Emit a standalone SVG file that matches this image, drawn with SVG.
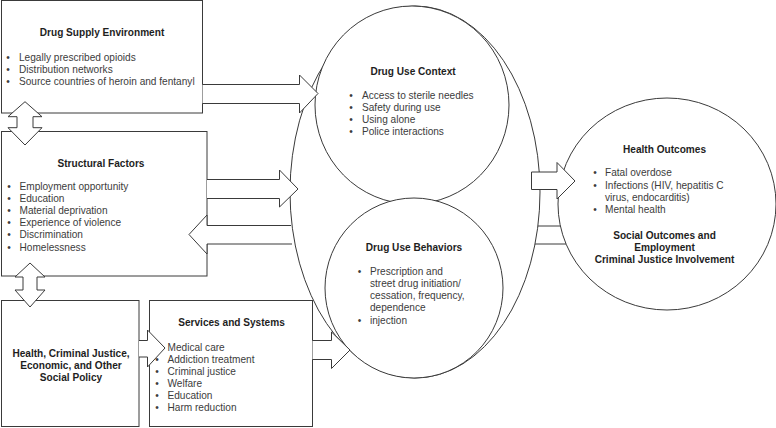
<svg xmlns="http://www.w3.org/2000/svg" width="776" height="428" viewBox="0 0 776 428">
<style>
.shape{fill:#fff;stroke:#3a3a3a;stroke-width:1}
.line{fill:none;stroke:#3a3a3a;stroke-width:1}
.arrow{fill:#fff;stroke:#3a3a3a;stroke-width:1;stroke-linejoin:miter}
text{font-family:"Liberation Sans",Arial,sans-serif;font-size:10.1px;fill:#3c3c3c}
.t{font-weight:bold;text-anchor:middle;fill:#1e1e1e}
.b{text-anchor:middle}
</style>
<rect width="776" height="428" fill="#fff"/>
<g id="connectors-back">
<line class="line" x1="528" y1="226" x2="572" y2="226"/>
<line class="line" x1="528" y1="244" x2="572" y2="244"/>
</g>
<g id="drug-use-env">
<ellipse class="shape" cx="415" cy="192" rx="125" ry="186"/>
</g>
<g id="drug-use-context">
<ellipse class="shape" cx="412" cy="105" rx="97" ry="99"/>
<text class="t" x="413" y="74.5">Drug Use Context</text>
<text class="b" x="351" y="98.5">•</text><text x="362" y="98.5">Access to sterile needles</text>
<text class="b" x="351" y="110.5">•</text><text x="362" y="110.5">Safety during use</text>
<text class="b" x="351" y="122.5">•</text><text x="362" y="122.5">Using alone</text>
<text class="b" x="351" y="134.5">•</text><text x="362" y="134.5">Police interactions</text>
</g>
<g id="drug-use-behaviors">
<ellipse class="shape" cx="414" cy="288" rx="89" ry="90"/>
<text class="t" x="414" y="251.3">Drug Use Behaviors</text>
<text class="b" x="359.5" y="274.7">•</text><text x="370" y="274.7">Prescription and</text>
<text x="370" y="286.9">street drug initiation/</text>
<text x="370" y="299.1">cessation, frequency,</text>
<text x="370" y="311.3">dependence</text>
<text class="b" x="359.5" y="323.5">•</text><text x="370" y="323.5">injection</text>
</g>
<g id="health-outcomes">
<ellipse class="shape" cx="667" cy="204" rx="109" ry="106"/>
<text class="t" x="664.5" y="153">Health Outcomes</text>
<text class="b" x="595" y="176.3">•</text><text x="605" y="176.3">Fatal overdose</text>
<text class="b" x="595" y="188.8">•</text><text x="605" y="188.8">Infections (HIV, hepatitis C</text>
<text x="605" y="201.1">virus, endocarditis)</text>
<text class="b" x="595" y="213.4">•</text><text x="605" y="213.4">Mental health</text>
<text class="t" x="664.5" y="238.6">Social Outcomes and</text>
<text class="t" x="664.5" y="250.6">Employment</text>
<text class="t" x="664.5" y="262.6">Criminal Justice Involvement</text>
</g>
<g id="drug-supply-environment">
<rect class="shape" x="1.5" y="0.5" width="201" height="112.5"/>
<text class="t" x="102" y="36">Drug Supply Environment</text>
<text class="b" x="8" y="61">•</text><text x="19" y="61">Legally prescribed opioids</text>
<text class="b" x="8" y="73">•</text><text x="19" y="73">Distribution networks</text>
<text class="b" x="8" y="85">•</text><text x="19" y="85">Source countries of heroin and fentanyl</text>
</g>
<g id="structural-factors">
<rect class="shape" x="1.5" y="131.5" width="205.5" height="144.5"/>
<text class="t" x="101" y="166.5">Structural Factors</text>
<text class="b" x="9" y="189.5">•</text><text x="19.5" y="189.5">Employment opportunity</text>
<text class="b" x="9" y="201.7">•</text><text x="19.5" y="201.7">Education</text>
<text class="b" x="9" y="213.9">•</text><text x="19.5" y="213.9">Material deprivation</text>
<text class="b" x="9" y="226.1">•</text><text x="19.5" y="226.1">Experience of violence</text>
<text class="b" x="9" y="238.3">•</text><text x="19.5" y="238.3">Discrimination</text>
<text class="b" x="9" y="250.5">•</text><text x="19.5" y="250.5">Homelessness</text>
</g>
<g id="policy">
<rect class="shape" x="1.5" y="300.5" width="137.5" height="126"/>
<text class="t" x="71" y="357">Health, Criminal Justice,</text>
<text class="t" x="71" y="368.8">Economic, and Other</text>
<text class="t" x="71" y="380.6">Social Policy</text>
</g>
<g id="services-systems">
<rect class="shape" x="149.5" y="300.5" width="163" height="126"/>
<text class="t" x="231.5" y="325.5">Services and Systems</text>
<text class="b" x="157" y="351">•</text><text x="167.5" y="351">Medical care</text>
<text class="b" x="157" y="363">•</text><text x="167.5" y="363">Addiction treatment</text>
<text class="b" x="157" y="375">•</text><text x="167.5" y="375">Criminal justice</text>
<text class="b" x="157" y="387">•</text><text x="167.5" y="387">Welfare</text>
<text class="b" x="157" y="399">•</text><text x="167.5" y="399">Education</text>
<text class="b" x="157" y="411">•</text><text x="167.5" y="411">Harm reduction</text>
</g>
<g id="connectors">
<polygon class="arrow" points="25,101.7 42,116.7 33,116.7 33,127.7 42,127.7 25,145 8,127.7 17,127.7 17,116.7 8,116.7"/>
<polygon class="arrow" points="30,263 45,277 37,277 37,290 45,290 30,307 15,290 23,290 23,277 15,277"/>
<path class="arrow" d="M202.5,84.5 H299.5 V75 L318,93.5 L299.5,113 V103.5 H202.5"/>
<path class="arrow" d="M207,179.5 H279.5 V170 L298,189 L279.5,207 V198.5 H207"/>
<polygon points="291,225.5 207,225.5 207,215 189,234.5 207,254 207,244 292,244" fill="#fff"/>
<path class="line" d="M291,225.5 H207 V215 L189,234.5 L207,254 V244 H292"/>
<path class="arrow" d="M139,340.5 H147.5 V330 L165,348 L147.5,367 V357 H139"/>
<path class="arrow" d="M312.5,340.5 H331.5 V332 L350,350 L331.5,368.5 V359.5 H312.5"/>
<polygon class="arrow" points="531.5,172 557,172 557,162.5 575,181 557,199 557,189.5 531.5,189.5"/>
</g>
</svg>
